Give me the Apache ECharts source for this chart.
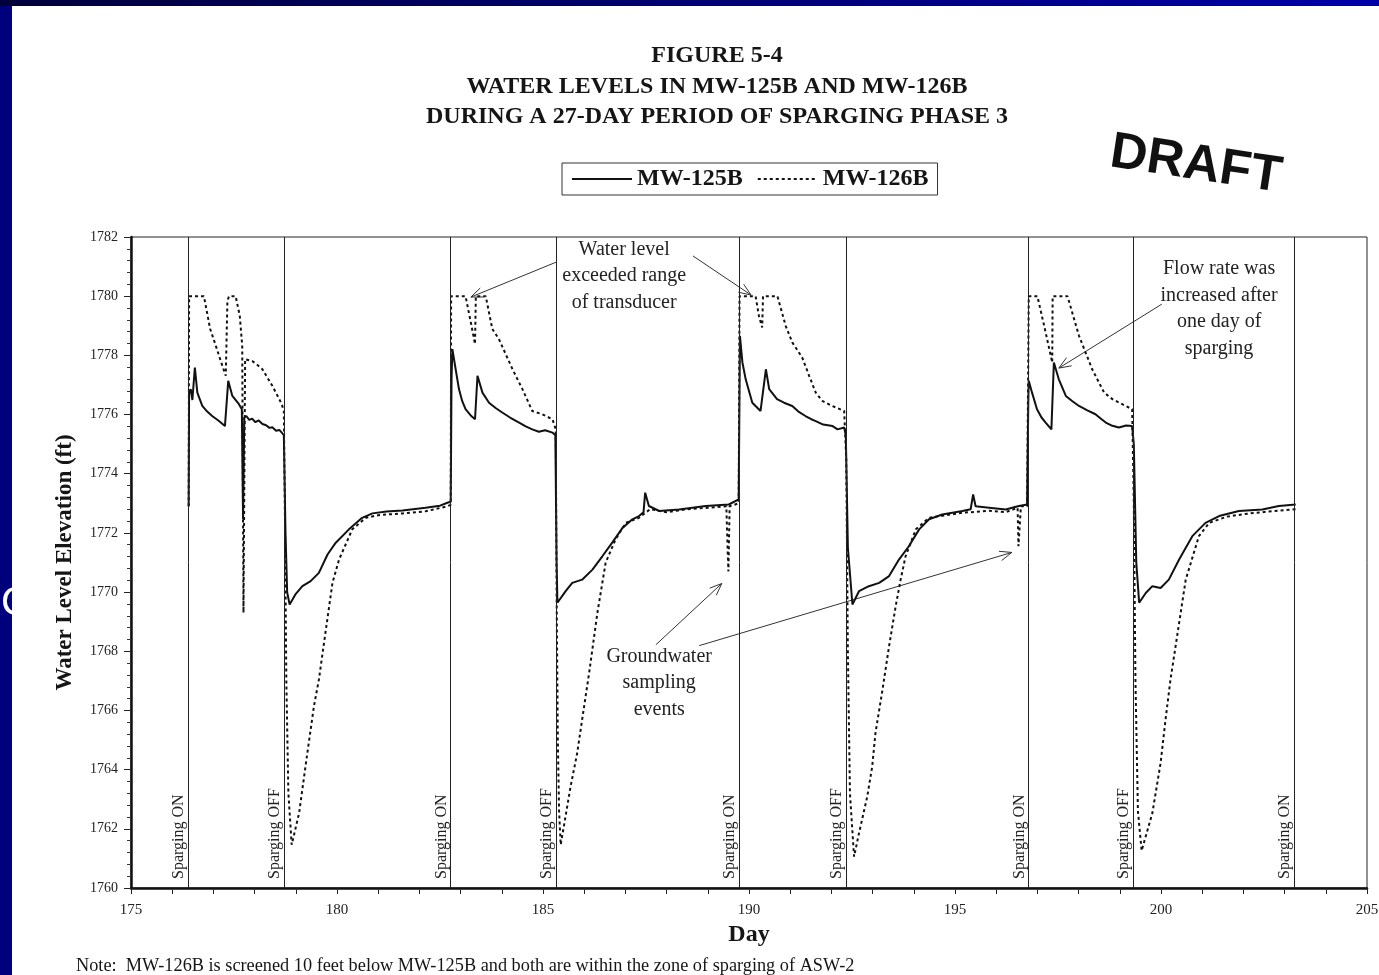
<!DOCTYPE html>
<html>
<head>
<meta charset="utf-8">
<script src="https://cdn.jsdelivr.net/npm/echarts@6/dist/echarts.min.js"></script>
<style>
    html, body { margin: 0; padding: 0; background: #fff; }
    #chart { width: 1379px; height: 975px; }
</style>
</head>
<body>
<div id="chart"></div>
<script>
// water levels, [day, elevation ft]
var mw125B = [
    [176.40, 1772.9], [176.41, 1776.7], [176.45, 1776.86], [176.49, 1776.49], [176.55, 1777.59],
    [176.61, 1776.74], [176.73, 1776.29], [176.85, 1776.10], [176.97, 1775.95], [177.12, 1775.80],
    [177.28, 1775.61], [177.36, 1777.14], [177.46, 1776.63], [177.62, 1776.35], [177.69, 1776.18],
    [177.72, 1772.46], [177.75, 1775.90], [177.80, 1775.95], [177.87, 1775.82], [177.94, 1775.86],
    [178.02, 1775.74], [178.10, 1775.80], [178.19, 1775.68], [178.28, 1775.64], [178.36, 1775.55],
    [178.43, 1775.57], [178.52, 1775.45], [178.60, 1775.48], [178.66, 1775.39], [178.71, 1775.3],
    [178.75, 1772.0], [178.79, 1770.0], [178.85, 1769.58], [178.99, 1769.92], [179.16, 1770.20],
    [179.36, 1770.37], [179.56, 1770.65], [179.77, 1771.27], [179.97, 1771.67], [180.29, 1772.12],
    [180.61, 1772.51], [180.86, 1772.66], [181.20, 1772.72], [181.59, 1772.76], [182.15, 1772.85],
    [182.50, 1772.92], [182.68, 1773.02], [182.76, 1773.05],
    [182.78, 1777.2], [182.80, 1778.21], [182.88, 1777.53], [182.96, 1776.86], [183.04, 1776.45],
    [183.12, 1776.18], [183.24, 1775.98], [183.35, 1775.84], [183.41, 1777.31], [183.53, 1776.74],
    [183.69, 1776.40], [183.85, 1776.22], [184.01, 1776.07], [184.20, 1775.90], [184.42, 1775.73],
    [184.58, 1775.60], [184.74, 1775.50], [184.90, 1775.42], [185.05, 1775.47], [185.23, 1775.39],
    [185.30, 1775.3], [185.33, 1771.0], [185.35, 1769.64], [185.55, 1770.03], [185.71, 1770.31],
    [185.95, 1770.42], [186.20, 1770.76], [186.44, 1771.21], [186.68, 1771.67], [186.93, 1772.17],
    [187.17, 1772.46], [187.33, 1772.57], [187.44, 1772.7], [187.48, 1773.36], [187.57, 1772.91],
    [187.82, 1772.74], [188.30, 1772.79], [188.95, 1772.91], [189.51, 1772.96], [189.75, 1773.13],
    [189.78, 1778.66], [189.84, 1777.76], [189.92, 1777.19], [190.08, 1776.40], [190.28, 1776.12],
    [190.41, 1777.53], [190.49, 1776.86], [190.68, 1776.52], [190.85, 1776.40], [191.05, 1776.29],
    [191.20, 1776.10], [191.37, 1775.95], [191.50, 1775.85], [191.62, 1775.78], [191.80, 1775.66],
    [192.03, 1775.61], [192.15, 1775.50], [192.31, 1775.56], [192.35, 1775.3], [192.40, 1771.5],
    [192.51, 1769.58], [192.67, 1770.03], [192.91, 1770.20], [193.16, 1770.31], [193.40, 1770.54],
    [193.64, 1771.10], [193.88, 1771.55], [194.13, 1772.12], [194.37, 1772.46], [194.69, 1772.62],
    [195.18, 1772.74], [195.38, 1772.8], [195.44, 1773.3], [195.50, 1772.9], [195.83, 1772.85],
    [196.23, 1772.79], [196.55, 1772.91], [196.75, 1772.96],
    [196.78, 1776.5], [196.79, 1777.14], [196.87, 1776.74], [196.99, 1776.18], [197.10, 1775.90],
    [197.20, 1775.73], [197.34, 1775.50], [197.40, 1777.76], [197.52, 1777.19], [197.69, 1776.63],
    [197.85, 1776.45], [198.01, 1776.29], [198.20, 1776.15], [198.41, 1776.01], [198.55, 1775.85],
    [198.66, 1775.73], [198.82, 1775.62], [198.98, 1775.56], [199.15, 1775.63], [199.30, 1775.61],
    [199.34, 1775.0], [199.40, 1771.0], [199.47, 1769.64], [199.63, 1769.97], [199.79, 1770.20],
    [199.99, 1770.14], [200.19, 1770.42], [200.44, 1771.10], [200.76, 1771.89], [201.08, 1772.34],
    [201.41, 1772.57], [201.89, 1772.74], [202.46, 1772.79], [202.86, 1772.91], [203.27, 1772.96]
];

var mw126B = [
    [176.40, 1772.9], [176.41, 1780.0], [176.77, 1780.0], [176.92, 1778.9], [177.06, 1778.32],
    [177.18, 1777.8], [177.30, 1777.31], [177.34, 1779.84], [177.38, 1780.0], [177.54, 1780.0],
    [177.64, 1779.34], [177.70, 1778.32], [177.73, 1769.30], [177.77, 1777.87], [177.94, 1777.81],
    [178.05, 1777.70], [178.19, 1777.53], [178.31, 1777.25], [178.43, 1776.97], [178.55, 1776.65],
    [178.66, 1776.35], [178.71, 1776.1], [178.74, 1772.0], [178.77, 1767.0], [178.82, 1763.2],
    [178.90, 1761.46], [179.08, 1762.53], [179.28, 1764.56], [179.44, 1766.14], [179.56, 1767.04],
    [179.73, 1768.73], [179.89, 1770.31], [180.05, 1771.10], [180.37, 1772.12], [180.70, 1772.51],
    [181.00, 1772.60], [181.59, 1772.66], [182.15, 1772.73], [182.68, 1772.90], [182.76, 1772.95],
    [182.77, 1780.0], [183.12, 1780.0], [183.25, 1779.1], [183.35, 1778.38], [183.37, 1780.0],
    [183.61, 1780.0], [183.77, 1778.89], [183.93, 1778.55], [184.26, 1777.53], [184.50, 1776.86],
    [184.74, 1776.12], [184.98, 1776.01], [185.23, 1775.84], [185.31, 1775.5], [185.33, 1770.0],
    [185.36, 1765.0], [185.39, 1762.6], [185.43, 1761.46], [185.67, 1763.43], [185.83, 1764.56],
    [185.95, 1765.69], [186.12, 1767.27], [186.32, 1769.30], [186.44, 1770.31], [186.52, 1770.99],
    [186.76, 1771.78], [187.01, 1772.34], [187.33, 1772.51], [187.60, 1772.80], [188.00, 1772.70],
    [188.50, 1772.80], [189.00, 1772.85], [189.45, 1772.90], [189.48, 1771.5], [189.50, 1770.7],
    [189.53, 1772.9], [189.75, 1773.0],
    [189.77, 1780.0], [190.16, 1780.0], [190.24, 1779.34], [190.32, 1778.94], [190.34, 1780.0],
    [190.69, 1780.0], [190.89, 1779.0], [191.05, 1778.44], [191.29, 1777.93], [191.46, 1777.31],
    [191.62, 1776.74], [191.78, 1776.46], [192.02, 1776.29], [192.31, 1776.12], [192.36, 1774.5],
    [192.40, 1768.0], [192.45, 1763.2], [192.55, 1761.06], [192.67, 1761.85], [192.87, 1763.09],
    [192.99, 1764.10], [193.07, 1765.24], [193.24, 1766.70], [193.40, 1768.17], [193.56, 1769.52],
    [193.68, 1770.42], [193.80, 1771.21], [194.05, 1772.12], [194.37, 1772.51], [194.69, 1772.58],
    [195.18, 1772.68], [195.83, 1772.75], [196.23, 1772.70], [196.52, 1772.85], [196.54, 1771.55],
    [196.57, 1771.6], [196.60, 1772.9], [196.75, 1772.9],
    [196.79, 1780.0], [197.00, 1780.0], [197.18, 1778.9], [197.36, 1777.76], [197.37, 1780.0],
    [197.73, 1780.0], [198.01, 1778.66], [198.33, 1777.53], [198.62, 1776.74], [198.82, 1776.52],
    [199.06, 1776.35], [199.30, 1776.18], [199.34, 1773.0], [199.38, 1767.0], [199.44, 1762.6],
    [199.53, 1761.26], [199.79, 1762.53], [199.99, 1764.22], [200.11, 1765.69], [200.23, 1767.04],
    [200.39, 1768.50], [200.60, 1770.42], [200.92, 1771.89], [201.17, 1772.34], [201.60, 1772.55],
    [202.10, 1772.65], [202.60, 1772.72], [203.27, 1772.80]
];

var spargeOnDays = [176.38, 182.76, 189.76, 196.78, 203.23];
var spargeOffDays = [178.71, 185.31, 192.35, 199.32];
var xLabelDays = [175, 180, 185, 190, 195, 200, 205];

var titleLines = [
    'FIGURE 5-4',
    'WATER LEVELS IN MW-125B AND MW-126B',
    'DURING A 27-DAY PERIOD OF SPARGING PHASE 3'
];
var noteText = 'Note:  MW-126B is screened 10 feet below MW-125B and both are within the zone of sparging of ASW-2';

// callouts, placed in data units
var callouts = [
    { text: 'Water level\nexceeded range\nof transducer', at: [186.97, 1780.68] },
    { text: 'Flow rate was\nincreased after\none day of\nsparging', at: [201.41, 1779.58] },
    { text: 'Groundwater\nsampling\nevents', at: [187.82, 1766.92] }
];
var arrows = [
    [[185.32, 1781.15], [183.25, 1779.97]],
    [[188.64, 1781.36], [190.05, 1780.04]],
    [[200.02, 1779.73], [197.52, 1777.57]],
    [[187.74, 1768.22], [189.34, 1770.29]],
    [[188.79, 1768.19], [196.38, 1771.34]]
];

var serif = '"Liberation Serif", "Times New Roman", serif';
var ink = '#151515';

var events = [];
spargeOnDays.forEach(function (d) { events.push({ xAxis: d, label: { formatter: 'Sparging ON' } }); });
spargeOffDays.forEach(function (d) { events.push({ xAxis: d, label: { formatter: 'Sparging OFF' } }); });

var chart = echarts.init(document.getElementById('chart'));

chart.setOption({
    animation: false,
    backgroundColor: '#fff',
    grid: {
        left: 131, right: 12, top: 237, bottom: 87,
        show: true, borderColor: '#222', borderWidth: 1,
        containLabel: false, outerBoundsMode: 'none'
    },
    legend: {
        left: 562, top: 163,
        orient: 'horizontal',
        itemWidth: 60, itemHeight: 14, itemGap: 14,
        padding: [4, 9],
        borderColor: '#333', borderWidth: 1,
        itemStyle: { opacity: 0 },
        textStyle: { fontFamily: serif, fontWeight: 'bold', fontSize: 24, color: ink },
        data: ['MW-125B', 'MW-126B']
    },
    xAxis: {
        type: 'value', min: 175, max: 205, interval: 1,
        name: 'Day', nameLocation: 'middle', nameGap: 32,
        nameTextStyle: { fontFamily: serif, fontWeight: 'bold', fontSize: 24, color: ink },
        axisLine: { lineStyle: { color: '#111', width: 2.5 } },
        axisTick: { length: 6, lineStyle: { color: '#222', width: 1 } },
        axisLabel: {
            fontFamily: serif, fontSize: 15, color: '#222', margin: 15,
            formatter: function (v) { return xLabelDays.indexOf(v) >= 0 ? String(v) : ''; }
        },
        splitLine: { show: false }
    },
    yAxis: {
        type: 'value', min: 1760, max: 1782, interval: 2,
        name: 'Water Level Elevation (ft)', nameLocation: 'middle', nameGap: 54,
        nameTextStyle: { fontFamily: serif, fontWeight: 'bold', fontSize: 23, color: ink },
        axisLine: { show: true, lineStyle: { color: '#111', width: 2.5 } },
        axisTick: { length: 7, lineStyle: { color: '#222', width: 1 } },
        minorTick: { show: true, splitNumber: 5, length: 4, lineStyle: { color: '#333' } },
        axisLabel: {
            fontFamily: serif, fontSize: 14, color: '#222', margin: 13,
            formatter: function (v) { return String(v); }
        },
        splitLine: { show: false }
    },
    series: [
        {
            name: 'MW-125B', type: 'line', data: mw125B,
            symbol: 'none', smooth: false,
            lineStyle: { color: '#111', width: 2 },
            itemStyle: { color: '#111' },
            z: 3,
            markLine: {
                silent: true, symbol: ['none', 'none'],
                lineStyle: { color: '#222', width: 1, type: 'solid' },
                label: {
                    position: 'insideStartTop', distance: 1, padding: [0, 0, 0, 8],
                    fontFamily: serif, fontSize: 16, color: '#222'
                },
                data: events
            }
        },
        {
            name: 'MW-126B', type: 'line', data: mw126B,
            symbol: 'none', smooth: false,
            lineStyle: { color: '#111', width: 2, type: [3, 3] },
            itemStyle: { color: '#111' },
            z: 2
        }
    ]
});

// page decoration, titles and callouts
var g = [];
g.push({ type: 'rect', shape: { x: 0, y: 0, width: 12, height: 975 }, style: { fill: '#00007c' }, z: 100 });
g.push({
    type: 'rect', shape: { x: 0, y: 0, width: 1379, height: 6 }, z: 100,
    style: { fill: new echarts.graphic.LinearGradient(0, 0, 1, 0, [
        { offset: 0, color: '#00003c' }, { offset: 1, color: '#0000a8' }
    ]) }
});
g.push({
    type: 'text', x: 1, y: 604, z: 101,
    style: { text: 'C', fill: '#fff', font: '40px "Liberation Sans"', textVerticalAlign: 'middle', verticalAlign: 'middle' }
});
titleLines.forEach(function (t, i) {
    g.push({
        type: 'text', x: 717, y: 56 + i * 30.5,
        style: {
            text: t, fill: ink, font: 'bold 24px ' + serif,
            textAlign: 'center', align: 'center', textVerticalAlign: 'middle', verticalAlign: 'middle'
        }
    });
});
g.push({
    type: 'text', x: 1196, y: 165, rotation: -0.15,
    style: {
        text: 'DRAFT', fill: '#111', font: 'bold 51px "Liberation Sans", Arial, sans-serif',
        textAlign: 'center', align: 'center', textVerticalAlign: 'middle', verticalAlign: 'middle'
    }
});
g.push({
    type: 'text', x: 76, y: 966,
    style: { text: noteText, fill: ink, font: '18.3px ' + serif, textVerticalAlign: 'middle', verticalAlign: 'middle' }
});
callouts.forEach(function (c) {
    var p = chart.convertToPixel({ gridIndex: 0 }, c.at);
    g.push({
        type: 'text', x: p[0], y: p[1],
        style: {
            text: c.text, fill: '#222', font: '20px ' + serif, lineHeight: 26.5,
            textAlign: 'center', align: 'center', textVerticalAlign: 'middle', verticalAlign: 'middle'
        }
    });
});
arrows.forEach(function (a) {
    var p0 = chart.convertToPixel({ gridIndex: 0 }, a[0]);
    var p1 = chart.convertToPixel({ gridIndex: 0 }, a[1]);
    var ang = Math.atan2(p0[1] - p1[1], p0[0] - p1[0]);
    var len = 13, spread = 0.38;
    var h1 = [p1[0] + len * Math.cos(ang + spread), p1[1] + len * Math.sin(ang + spread)];
    var h2 = [p1[0] + len * Math.cos(ang - spread), p1[1] + len * Math.sin(ang - spread)];
    g.push({ type: 'polyline', shape: { points: [p0, p1] }, style: { stroke: '#333', lineWidth: 1, fill: null } });
    g.push({ type: 'polyline', shape: { points: [h1, p1, h2] }, style: { stroke: '#333', lineWidth: 1, fill: null } });
});

chart.setOption({ graphic: g });
</script>
</body>
</html>
